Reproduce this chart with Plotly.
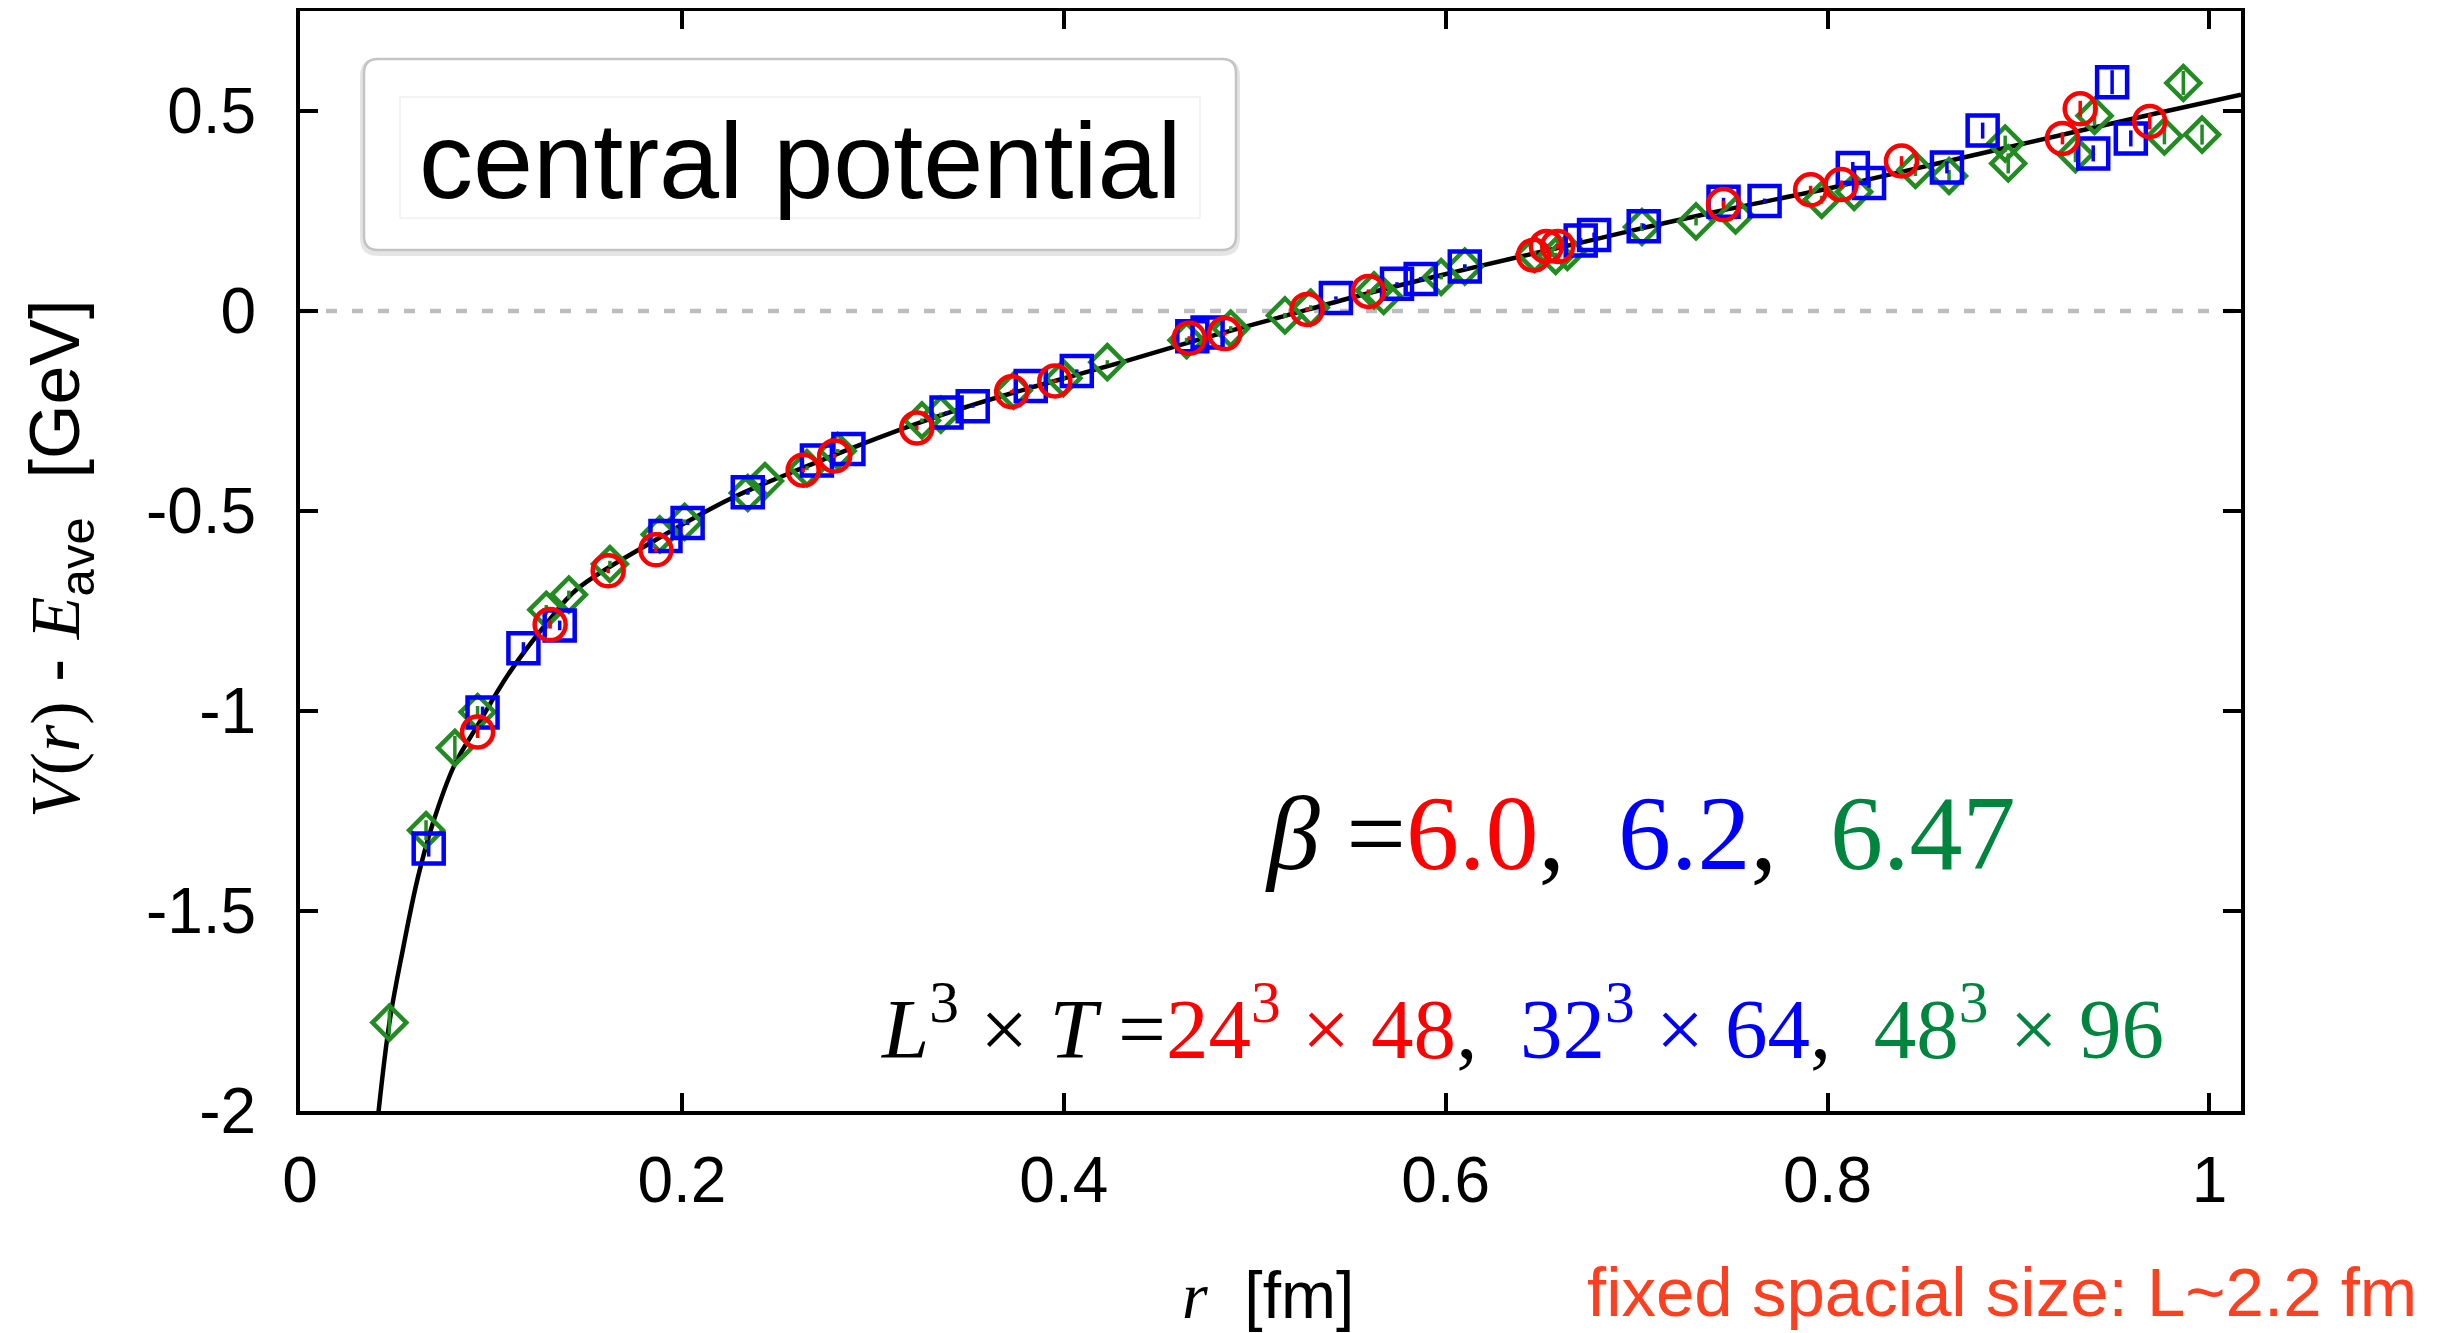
import plotly.graph_objects as go

# the page puts the figure 8px in from the top-left corner, so the figure is made
# that much smaller and all pixel positions below are measured on the full 2460x1333 picture
OFF = 8
W, H = 2460 - OFF, 1333 - OFF

# fit curve
fit_r = [0.0405, 0.0468, 0.0538, 0.0616, 0.0695, 0.0808, 0.093, 0.1087, 0.1297, 0.1453,
         0.1853, 0.2254, 0.2655, 0.3056, 0.3457, 0.3858, 0.4333, 0.4733, 0.5134, 0.5535,
         0.5936, 0.6336, 0.6737, 0.7073, 0.7435, 0.8056, 0.8677, 0.9298, 0.9712, 1.0165]
fit_v = [-2.03, -1.78, -1.598, -1.419, -1.282, -1.136, -1.036, -0.911, -0.7775, -0.6945,
         -0.575, -0.4695, -0.388, -0.312, -0.2448, -0.1875, -0.124, -0.068, -0.0155, 0.037,
         0.085, 0.13, 0.174, 0.212, 0.25, 0.312, 0.38, 0.448, 0.493, 0.541]

# beta = 6.0, 24^3 x 48
r_60 = [0.093, 0.131, 0.1614, 0.1864, 0.2635, 0.28, 0.323, 0.3727, 0.3953, 0.4657, 0.4843,
        0.5274, 0.5595, 0.646, 0.6527, 0.6586, 0.7455, 0.7911, 0.8071, 0.8387, 0.923, 0.9323, 0.9687]
v_60 = [-1.0525, -0.784, -0.6495, -0.597, -0.398, -0.3625, -0.2925, -0.2017, -0.175, -0.068, -0.0565,
        0.004, 0.049, 0.1395, 0.1615, 0.1615, 0.266, 0.303, 0.316, 0.375, 0.4315, 0.5055, 0.474]
e_60 = [0.015, 0.01, 0.006, 0.006, 0.005, 0.005, 0.005, 0.004, 0.004, 0.005, 0.005,
        0.005, 0.005, 0.006, 0.006, 0.006, 0.01, 0.01, 0.01, 0.012, 0.015, 0.02, 0.02]

# beta = 6.2, 32^3 x 64
r_62 = [0.0674, 0.0956, 0.117, 0.136, 0.1914, 0.203, 0.2345, 0.2707, 0.2872, 0.3386, 0.3523,
        0.3827, 0.4068, 0.4673, 0.4753, 0.5425, 0.5745, 0.5869, 0.61, 0.6707, 0.6777, 0.7037,
        0.7455, 0.767, 0.8132, 0.8217, 0.8625, 0.8812, 0.9391, 0.949, 0.9588]
v_62 = [-1.344, -1.004, -0.843, -0.786, -0.5625, -0.53, -0.453, -0.374, -0.345, -0.254, -0.238,
        -0.1875, -0.15, -0.063, -0.054, 0.0325, 0.068, 0.08, 0.111, 0.176, 0.19, 0.212,
        0.273, 0.275, 0.3575, 0.32, 0.359, 0.451, 0.394, 0.572, 0.4315]
e_62 = [0.02, 0.015, 0.015, 0.012, 0.006, 0.005, 0.005, 0.004, 0.004, 0.004, 0.004,
        0.004, 0.004, 0.006, 0.006, 0.004, 0.004, 0.005, 0.005, 0.006, 0.006, 0.006,
        0.01, 0.006, 0.015, 0.012, 0.015, 0.02, 0.02, 0.03, 0.02]

# beta = 6.47, 48^3 x 96
r_647 = [0.0468, 0.066, 0.0811, 0.093, 0.129, 0.1408, 0.1623, 0.1884, 0.2014, 0.2345, 0.2435,
         0.2655, 0.2816, 0.3257, 0.3356, 0.3737, 0.3998, 0.4228, 0.4643, 0.4874, 0.5158, 0.5293,
         0.5625, 0.5675, 0.5976, 0.61, 0.6466, 0.6576, 0.6637, 0.7028, 0.7311, 0.7518, 0.7969,
         0.8139, 0.846, 0.8636, 0.893, 0.8946, 0.9298, 0.9398, 0.9764, 0.9863, 0.9961]
v_647 = [-1.779, -1.298, -1.092, -1.0025, -0.747, -0.709, -0.6325, -0.5585, -0.527, -0.455, -0.425,
         -0.393, -0.35, -0.2735, -0.259, -0.199, -0.168, -0.128, -0.073, -0.044, -0.011, 0.0085,
         0.0515, 0.0375, 0.085, 0.111, 0.1425, 0.1375, 0.1475, 0.21, 0.224, 0.239, 0.278,
         0.298, 0.3525, 0.3375, 0.4185, 0.369, 0.392, 0.488, 0.4365, 0.57, 0.441]
e_647 = [0.03, 0.025, 0.03, 0.015, 0.012, 0.01, 0.008, 0.006, 0.006, 0.005, 0.005,
         0.005, 0.005, 0.005, 0.005, 0.005, 0.005, 0.005, 0.006, 0.006, 0.006, 0.006,
         0.006, 0.006, 0.006, 0.006, 0.008, 0.008, 0.008, 0.01, 0.01, 0.01, 0.01,
         0.012, 0.015, 0.015, 0.02, 0.025, 0.02, 0.025, 0.02, 0.03, 0.025]

x_ticks = [0, 0.2, 0.4, 0.6, 0.8, 1.0]
x_ticklabels = ["0", "0.2", "0.4", "0.6", "0.8", "1"]
y_ticks = [-2, -1.5, -1, -0.5, 0, 0.5]
y_ticklabels = ["-2", "-1.5", "-1", "-0.5", "0", "0.5"]

RED, BLUE, GREEN, TGREEN = "#FF0000", "#0000FF", "#228B22", "#00853F"
SANS, SERIF = "Liberation Sans", "Liberation Serif"


def px(x):
    return (x - OFF) / W


def py(y):
    return 1 - (y - OFF) / H


def rounded_box(x0, y0, x1, y1, rad):
    rx, ry = rad / W, rad / H
    a0, a1, b0, b1 = px(x0), px(x1), py(y1), py(y0)
    return (f"M {a0 + rx} {b0} L {a1 - rx} {b0} Q {a1} {b0} {a1} {b0 + ry} "
            f"L {a1} {b1 - ry} Q {a1} {b1} {a1 - rx} {b1} "
            f"L {a0 + rx} {b1} Q {a0} {b1} {a0} {b1 - ry} "
            f"L {a0} {b0 + ry} Q {a0} {b0} {a0 + rx} {b0} Z")


fig = go.Figure()

fig.add_trace(go.Scatter(x=fit_r, y=fit_v, mode="lines", line=dict(color="black", width=4.5, shape="spline"),
                         showlegend=False))

for r, v, e, col, sym, size in [(r_647, v_647, e_647, GREEN, "diamond-open", 26),
                                (r_62, v_62, e_62, BLUE, "square-open", 30),
                                (r_60, v_60, e_60, RED, "circle-open", 31)]:
    fig.add_trace(go.Scatter(
        x=r, y=v, mode="markers",
        marker=dict(symbol=sym, size=size, color=col, line=dict(width=4.5, color=col)),
        error_y=dict(type="data", array=e, thickness=3.5, width=0, color=col),
        showlegend=False))

axis_common = dict(showline=True, linewidth=4, linecolor="black", mirror="ticks",
                   ticks="inside", ticklen=18, tickwidth=4, tickcolor="black",
                   showgrid=False, zeroline=False, automargin=False,
                   tickfont=dict(family=SANS, size=64, color="black"))

fig.update_xaxes(range=[0, 1.0165], domain=[px(300), px(2241)], tickvals=x_ticks, ticktext=x_ticklabels,
                 ticklabelstandoff=10, **axis_common)
fig.update_yaxes(range=[-2, 0.75], domain=[py(1111), py(11)], tickvals=y_ticks, ticktext=y_ticklabels,
                 ticklabelstandoff=27, **axis_common)

# dashed zero line
fig.add_shape(type="line", xref="paper", yref="y", x0=px(300), x1=px(2241), y0=0, y1=0,
              line=dict(color="#BDBDBD", width=4.5, dash="11px,15px"), layer="below")

# "central potential" box with soft shadow
fig.add_shape(type="path", xref="paper", yref="paper", path=rounded_box(364, 62, 1236, 252, 14),
              line=dict(color="rgba(0,0,0,0.10)", width=8), fillcolor="white")
fig.add_shape(type="path", xref="paper", yref="paper", path=rounded_box(364, 59, 1236, 250, 14),
              line=dict(color="#C4C4C4", width=2.5), fillcolor="white")
fig.add_shape(type="rect", xref="paper", yref="paper", x0=px(400), x1=px(1200), y0=py(218), y1=py(97),
              line=dict(color="#EFEFEF", width=1.5))

sp = "\u00a0"
ann = [
    dict(text="central potential", x=px(800), y=py(160), font=dict(family=SANS, size=108, color="black")),
    dict(text=f"<i>β</i>{sp}=<span style='color:{RED}'>6.0</span>,{sp}{sp}<span style='color:{BLUE}'>6.2</span>,"
              f"{sp}{sp}<span style='color:{TGREEN}'>6.47</span>",
         x=px(1640), y=py(834), font=dict(family=SERIF, size=106, color="black")),
    dict(text=f"<i>L</i><sup>3</sup>{sp}×{sp}<i>T</i>{sp}=<span style='color:{RED}'>24<sup>3</sup>{sp}×{sp}48</span>,"
              f"{sp}{sp}<span style='color:{BLUE}'>32<sup>3</sup>{sp}×{sp}64</span>,"
              f"{sp}{sp}<span style='color:{TGREEN}'>48<sup>3</sup>{sp}×{sp}96</span>",
         x=px(1522), y=py(1022), font=dict(family=SERIF, size=85, color="black")),
    dict(text=f"<span style='font-family:{SERIF}'><i>r</i></span>{sp}{sp}[fm]",
         x=px(1268), y=py(1295), font=dict(family=SANS, size=66, color="black")),
    dict(text="fixed spacial size: L~2.2 fm", x=px(2002), y=py(1292),
         font=dict(family=SANS, size=69, color="#FF4020")),
    dict(text=f"<span style='font-family:{SERIF}'><i>V</i>(<i>r</i>)</span>{sp}-{sp}"
              f"<span style='font-family:{SERIF}'><i>E</i></span><sub>ave</sub>{sp}{sp}[GeV]",
         x=px(60), y=py(559), textangle=-90, font=dict(family=SANS, size=70, color="black")),
]
for a in ann:
    fig.add_annotation(xref="paper", yref="paper", showarrow=False, xanchor="center", yanchor="middle", **a)

fig.update_layout(width=W, height=H, autosize=False, margin=dict(l=0, r=0, t=0, b=0),
                  paper_bgcolor="white", plot_bgcolor="white")

fig.write_html("out.html")
